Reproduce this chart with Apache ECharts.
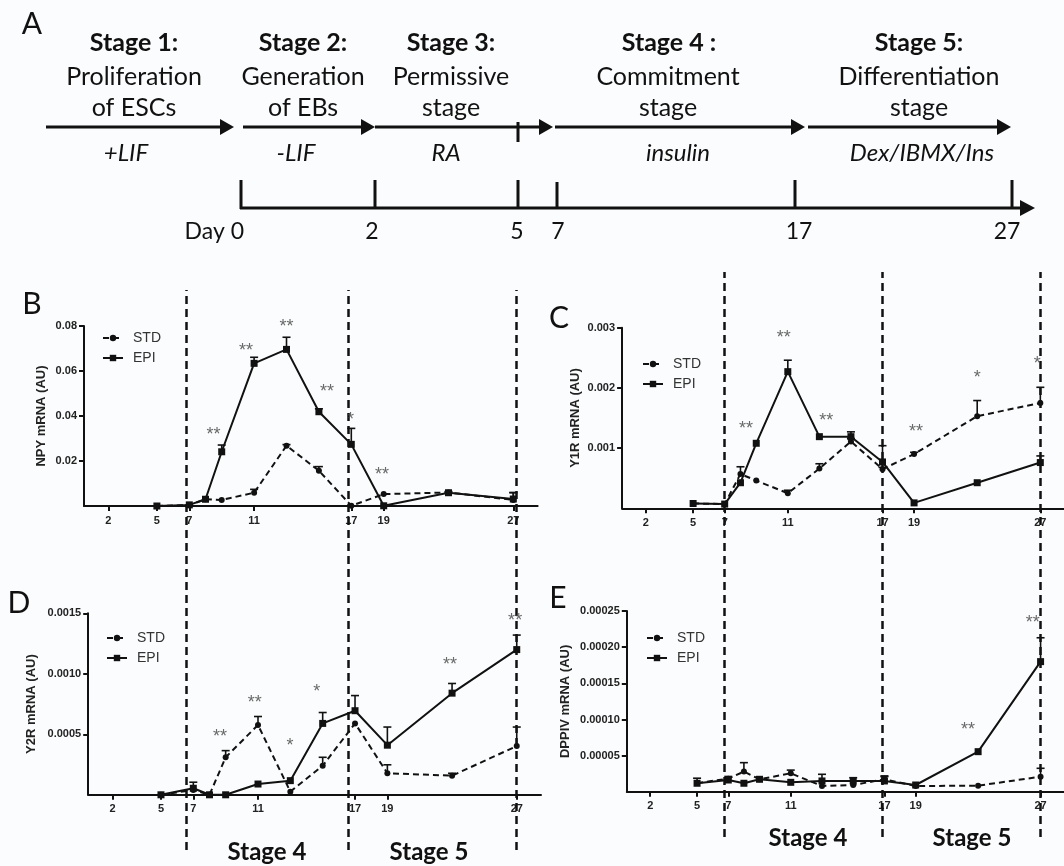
<!DOCTYPE html>
<html>
<head>
<meta charset="utf-8">
<script src="https://cdn.jsdelivr.net/npm/echarts@6/dist/echarts.min.js"></script>
<style>html,body{margin:0;padding:0;background:#fbfcfd;}#c{width:1064px;height:866px;}</style>
</head>
<body>
<div id="c"></div>
<script>
// ---------- data ----------
const days = [5, 7, 8, 9, 11, 13, 15, 17, 19, 23, 27];
const xTicks = [2, 5, 7, 11, 17, 19, 27];

const npyEPI = [0, 0.0005, 0.003, 0.0241, 0.0634, 0.0696, 0.0419, 0.0274, 0.0001, 0.0059, 0.0031];
const npyEPIsem = [0, 0, 0, 0.003, 0.0027, 0.0054, 0.0013, 0.0071, 0, 0.0005, 0.0028];
const npySTD = [0, 0.0004, 0.003, 0.0027, 0.0059, 0.0268, 0.0157, 0.0001, 0.0053, 0.006, 0.0027];
const npySTDsem = [0, 0, 0, 0, 0.0015, 0.0005, 0.0018, 0, 0, 0, 0.0033];

const y1rEPI = [0.00008, 0.00007, 0.000425, 0.00108, 0.00227, 0.00119, 0.00119, 0.00077, 0.00009, 0.000425, 0.00076];
const y1rEPIsem = [0, 0, 0, 0, 0.00019, 0, 0.00008, 0.00027, 0, 0, 0.00011];
const y1rSTD = [0.00008, 0.00007, 0.00057, 0.00046, 0.00025, 0.00066, 0.00111, 0.00065, 0.0009, 0.00153, 0.00175];
const y1rSTDsem = [0, 0, 0.00012, 0, 0.00005, 0.00008, 0.00005, 0.00003, 0.00003, 0.00026, 0.00026];

const y2rEPI = [0, 0.000054, 0, 0, 0.000089, 0.000117, 0.00059, 0.000695, 0.00041, 0.00084, 0.0012];
const y2rEPIsem = [0, 0.00005, 0, 0, 0, 0, 0.00009, 0.000125, 0.00015, 0.00008, 0.00012];
const y2rSTD = [0, 0.00004, 0, 0.00031, 0.000577, 0.000026, 0.00024, 0.00059, 0.000178, 0.000158, 0.000403];
const y2rSTDsem = [0, 0, 0, 0.000055, 0.00007, 0, 0.00007, 0, 0.00007, 0.00002, 0.000157];

const dppivEPI = [0.0000118, 0.0000163, 0.0000118, 0.0000173, 0.0000131, 0.000015, 0.000015, 0.000015, 0.0000094, 0.0000555, 0.00018];
const dppivEPIsem = [0.000007, 0, 0, 0, 0, 0.0000092, 0.0000045, 0.000006, 0, 0, 0.000033];
const dppivSTD = [0.000012, 0.0000182, 0.0000279, 0.0000173, 0.0000256, 0.000008, 0.0000094, 0.0000173, 0.000008, 0.0000085, 0.0000209];
const dppivSTDsem = [0, 0.000003, 0.0000124, 0, 0.0000044, 0, 0, 0.0000047, 0, 0, 0.0000116];

const npyStars = [[8.5, 0.033, '**'], [10.5, 0.070, '**'], [13.0, 0.0809, '**'], [15.5, 0.0519, '**'], [16.95, 0.0397, '*'], [18.9, 0.0153, '**']];
const y1rStars = [[8.35, 0.00137, '**'], [10.75, 0.00288, '**'], [13.43, 0.0015, '**'], [19.13, 0.00131, '**'], [23.0, 0.00221, '*'], [26.8, 0.00244, '*']];
const y2rStars = [[8.65, 0.000502, '**'], [10.8, 0.00078, '**'], [12.98, 0.000425, '*'], [14.63, 0.00087, '*'], [22.87, 0.0011, '**'], [26.9, 0.00146, '**']];
const dppivStars = [[22.35, 0.00009, '**'], [26.5, 0.000237, '**']];

const npyTicks = [0.02, 0.04, 0.06, 0.08];
const y1rTicks = [0.001, 0.002, 0.003];
const y2rTicks = [0.0005, 0.0010, 0.0015];
const dppivTicks = [0.00005, 0.00010, 0.00015, 0.00020, 0.00025];

const leftBoundaries = [6.55, 16.55, 27.0];
const rightBoundaries = [7, 17, 27];

// ---------- helpers ----------
const INK = '#111';
const AF = 'Liberation Sans';
const pairs = (xs, ys) => xs.map((x, i) => [x, ys[i]]);
const errData = (xs, ys, es) => xs.map((x, i) => [x, ys[i], es[i]]).filter(d => d[2] > 0);

const grids = [
  {left: 84, top: 326, width: 453.6, height: 180},
  {left: 622.1, top: 327.7, width: 453.9, height: 180.6},
  {left: 88.2, top: 613.3, width: 452.8, height: 181.5},
  {left: 626.8, top: 611, width: 451.4, height: 180.8},
  {left: 88.2, top: 290, width: 452.8, height: 560},
  {left: 622.1, top: 272, width: 453.9, height: 565}
];

function xAxis(g, show) {
  return {
    type: 'value', gridIndex: g, min: 0.5, max: 28.5, show: show,
    axisLine: {onZero: false, lineStyle: {color: INK, width: 2}},
    axisTick: {customValues: xTicks, length: 5, lineStyle: {color: INK, width: 2}},
    axisLabel: {customValues: xTicks, margin: 9, fontFamily: AF, fontWeight: 'bold', fontSize: 11, color: '#222'},
    splitLine: {show: false}
  };
}
function yAxis(g, max, ticks, dec, name, gap) {
  return {
    type: 'value', gridIndex: g, min: 0, max: max,
    name: name, nameLocation: 'middle', nameGap: gap,
    nameTextStyle: {fontFamily: AF, fontWeight: 'bold', fontSize: 13, color: '#222'},
    axisLine: {show: true, lineStyle: {color: INK, width: 2}},
    axisTick: {show: true, customValues: ticks, length: 5, lineStyle: {color: INK, width: 2}},
    axisLabel: {customValues: ticks, margin: 7, fontFamily: AF, fontWeight: 'bold', fontSize: 11, color: '#222',
      formatter: v => Number(v).toFixed(dec)},
    splitLine: {show: false}
  };
}
function errSeries(g, data) {
  return {
    type: 'custom', xAxisIndex: g, yAxisIndex: g, z: 2, silent: true, clip: false,
    data: data,
    renderItem: function (params, api) {
      const x = api.value(0), y = api.value(1), e = api.value(2);
      const p0 = api.coord([x, y]), p1 = api.coord([x, y + e]);
      return {type: 'group', children: [
        {type: 'line', shape: {x1: p0[0], y1: p0[1], x2: p1[0], y2: p1[1]}, style: {stroke: INK, lineWidth: 1.6}},
        {type: 'line', shape: {x1: p1[0] - 4, y1: p1[1], x2: p1[0] + 4, y2: p1[1]}, style: {stroke: INK, lineWidth: 1.6}}
      ]};
    }
  };
}
function lineSeries(g, name, ys) {
  const isStd = name === 'STD';
  return {
    type: 'line', name: name, xAxisIndex: g, yAxisIndex: g, z: 3,
    data: pairs(days, ys),
    symbol: isStd ? 'circle' : 'rect', symbolSize: isStd ? 6 : 7,
    showSymbol: true,
    itemStyle: {color: INK},
    lineStyle: {color: INK, width: 2, type: isStd ? [6, 4] : 'solid'}
  };
}
function starSeries(g, data) {
  return {
    type: 'scatter', xAxisIndex: g, yAxisIndex: g, z: 5, silent: true, clip: false,
    data: data, symbolSize: 0.1, itemStyle: {color: 'rgba(0,0,0,0)'},
    label: {show: true, position: 'inside', formatter: p => p.value[2], color: '#444',
      fontFamily: AF, fontSize: 18, offset: [0, 3]}
  };
}
function boundarySeries(g, vals) {
  return {
    type: 'line', xAxisIndex: g, yAxisIndex: g, data: [], silent: true,
    markLine: {silent: true, symbol: ['none', 'none'], label: {show: false},
      lineStyle: {color: INK, width: 2.5, type: [8, 5]},
      data: vals.map(v => ({xAxis: v}))}
  };
}
function legend(left, top) {
  return {
    left: left, top: top, orient: 'vertical', data: ['STD', 'EPI'], itemWidth: 20, itemHeight: 8, itemGap: 6,
    selectedMode: false,
    textStyle: {fontFamily: AF, fontSize: 14, color: '#333', padding: [0, 0, 0, 5]}
  };
}

// ---------- panel A schematic ----------
const LF = 'Lato';
function txt(x, y, s, opts) {
  opts = opts || {};
  return {type: 'text', x: x, y: y, style: {text: s, fill: INK, font: (opts.italic ? 'italic ' : '') + (opts.bold ? 'bold ' : '') + (opts.size || 25) + 'px ' + LF,
    textAlign: opts.align || 'center', textVerticalAlign: 'middle'}};
}
function arrow(x1, x2, y) {
  return [
    {type: 'line', shape: {x1: x1, y1: y, x2: x2 - 10, y2: y}, style: {stroke: INK, lineWidth: 3}},
    {type: 'polygon', shape: {points: [[x2 - 14, y - 8], [x2, y], [x2 - 14, y + 8]]}, style: {fill: INK}}
  ];
}
function vline(x, y1, y2) {
  return {type: 'line', shape: {x1: x, y1: y1, x2: x, y2: y2}, style: {stroke: INK, lineWidth: 3}};
}
const graphics = [].concat(
  [txt(32, 24, 'A', {size: 30})],
  [txt(134, 43, 'Stage 1:', {bold: true}), txt(134, 77, 'Proliferation'), txt(134, 108, 'of ESCs'), txt(126, 153, '+LIF', {italic: true, size: 24})],
  [txt(303, 43, 'Stage 2:', {bold: true}), txt(303, 77, 'Generation'), txt(303, 108, 'of EBs'), txt(296, 153, '-LIF', {italic: true, size: 24})],
  [txt(451, 43, 'Stage 3:', {bold: true}), txt(451, 77, 'Permissive'), txt(451, 108, 'stage'), txt(446, 153, 'RA', {italic: true, size: 24})],
  [txt(669, 43, 'Stage 4 :', {bold: true}), txt(668, 77, 'Commitment'), txt(668, 108, 'stage'), txt(678, 153, 'insulin', {italic: true, size: 24})],
  [txt(919, 43, 'Stage 5:', {bold: true}), txt(919, 77, 'Differentiation'), txt(919, 108, 'stage'), txt(922, 153, 'Dex/IBMX/Ins', {italic: true, size: 24})],
  arrow(46, 234, 127), arrow(243, 375, 127), arrow(375, 553, 127), arrow(555, 805, 127), arrow(808, 1011, 127),
  [vline(518, 122, 142)],
  [{type: 'line', shape: {x1: 240, y1: 208, x2: 1024, y2: 208}, style: {stroke: INK, lineWidth: 3}},
   {type: 'polygon', shape: {points: [[1020, 200], [1035, 208], [1020, 216]]}, style: {fill: INK}}],
  [vline(241, 180, 209), vline(375, 180, 209), vline(518, 180, 209), vline(557, 182, 209), vline(795, 180, 209), vline(1012, 180, 209)],
  [txt(244, 232, 'Day 0', {align: 'right', size: 23}), txt(372, 232, '2', {size: 23}), txt(517, 232, '5', {size: 23}), txt(558, 232, '7', {size: 23}), txt(799, 232, '17', {size: 23}), txt(1007, 232, '27', {size: 23})],
  [txt(32, 304, 'B', {size: 30}), txt(559, 318, 'C', {size: 30}), txt(19, 603, 'D', {size: 30}), txt(558, 598, 'E', {size: 30})],
  [txt(267, 852, 'Stage 4', {bold: true, size: 24}), txt(429, 852, 'Stage 5', {bold: true, size: 24}),
   txt(808, 838, 'Stage 4', {bold: true, size: 24}), txt(972, 838, 'Stage 5', {bold: true, size: 24})]
);

const option = {
  backgroundColor: '#fbfcfd',
  animation: false,
  grid: grids,
  xAxis: [xAxis(0, true), xAxis(1, true), xAxis(2, true), xAxis(3, true), xAxis(4, false), xAxis(5, false)],
  yAxis: [
    yAxis(0, 0.08, npyTicks, 2, 'NPY mRNA (AU)', 36),
    yAxis(1, 0.003, y1rTicks, 3, 'Y1R mRNA (AU)', 40),
    yAxis(2, 0.0015, y2rTicks, 4, 'Y2R mRNA (AU)', 50),
    yAxis(3, 0.00025, dppivTicks, 5, 'DPPIV mRNA (AU)', 55),
    {type: 'value', gridIndex: 4, min: 0, max: 1, show: false},
    {type: 'value', gridIndex: 5, min: 0, max: 1, show: false}
  ],
  legend: [legend(97, 326), legend(637, 352), legend(101, 626), legend(641, 626)],
  graphic: graphics,
  series: [
    boundarySeries(4, leftBoundaries), boundarySeries(5, rightBoundaries),
    errSeries(0, errData(days, npyEPI, npyEPIsem)), errSeries(0, errData(days, npySTD, npySTDsem)),
    lineSeries(0, 'STD', npySTD), lineSeries(0, 'EPI', npyEPI), starSeries(0, npyStars),
    errSeries(1, errData(days, y1rEPI, y1rEPIsem)), errSeries(1, errData(days, y1rSTD, y1rSTDsem)),
    lineSeries(1, 'STD', y1rSTD), lineSeries(1, 'EPI', y1rEPI), starSeries(1, y1rStars),
    errSeries(2, errData(days, y2rEPI, y2rEPIsem)), errSeries(2, errData(days, y2rSTD, y2rSTDsem)),
    lineSeries(2, 'STD', y2rSTD), lineSeries(2, 'EPI', y2rEPI), starSeries(2, y2rStars),
    errSeries(3, errData(days, dppivEPI, dppivEPIsem)), errSeries(3, errData(days, dppivSTD, dppivSTDsem)),
    lineSeries(3, 'STD', dppivSTD), lineSeries(3, 'EPI', dppivEPI), starSeries(3, dppivStars)
  ]
};
const chart = echarts.init(document.getElementById('c'), null, {renderer: 'canvas'});
chart.setOption(option);
</script>
</body>
</html>
